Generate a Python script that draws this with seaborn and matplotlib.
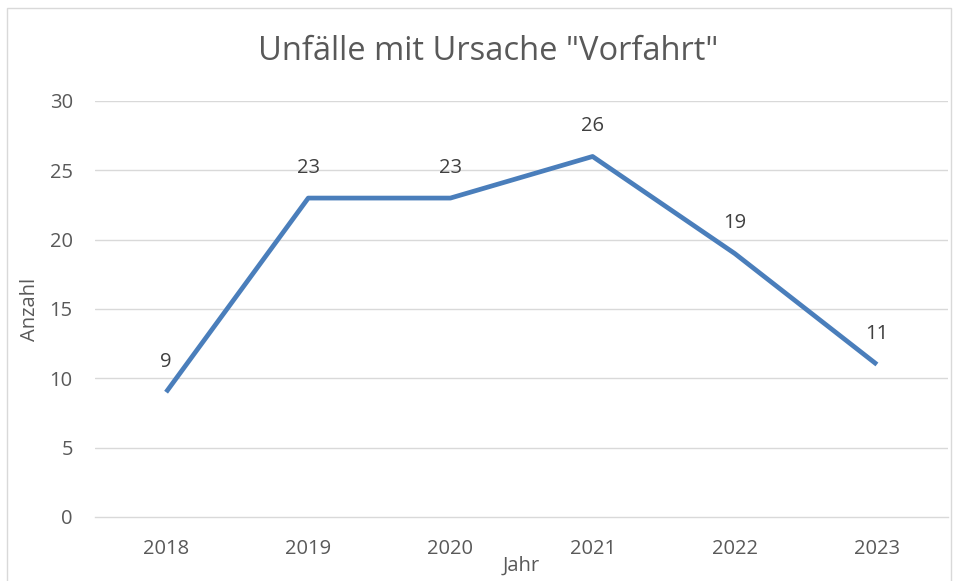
import matplotlib
matplotlib.use("Agg")
import matplotlib.pyplot as plt
import seaborn as sns
import pandas as pd
from matplotlib.patches import Rectangle

years = ["2018", "2019", "2020", "2021", "2022", "2023"]
counts = [9, 23, 23, 26, 19, 11]
yticks = [0, 5, 10, 15, 20, 25, 30]

sns.set_style("white")
plt.rcParams['font.family'] = ['Open Sans', 'DejaVu Sans']

df = pd.DataFrame({"Jahr": years, "Anzahl": counts})

fig = plt.figure(figsize=(9.56, 5.81), dpi=100)
fig.patch.set_facecolor("white")
ax = fig.add_axes([95/956, 1-517/581, (948-95)/956, (517-101)/581])

grid_c = "#d9d9d9"
text_c = "#595959"
fs = 14.5
for t in yticks[1:]:
    ax.axhline(t, color=grid_c, lw=1.0, zorder=0)

sns.lineplot(data=df, x="Jahr", y="Anzahl", ax=ax, color="#4a7ebb", lw=3.4,
             sort=False, solid_capstyle="butt")

for i, v in enumerate(counts):
    ax.annotate(str(v), (i, v), xytext=(0, 22), textcoords="offset points",
                ha="center", va="center", fontsize=fs, color="#404040")

ax.set_xlim(-0.5, 5.5)
ax.set_ylim(0, 30)
ax.set_yticks(yticks)
ax.set_xticks(range(len(years)))
ax.set_xticklabels(years)
for s in ["top", "right", "left"]:
    ax.spines[s].set_visible(False)
ax.spines["bottom"].set_color(grid_c)
ax.spines["bottom"].set_linewidth(1.0)
ax.tick_params(axis="both", length=0, labelsize=fs, labelcolor=text_c)
ax.tick_params(axis="y", pad=16)
ax.tick_params(axis="x", pad=16)

ax.set_xlabel("Jahr", fontsize=fs, color=text_c)
ax.set_ylabel("Anzahl", fontsize=fs, color=text_c)
ax.xaxis.label.set_va("center")
ax.yaxis.label.set_va("center")
ax.xaxis.set_label_coords(0.5, -(566-517)/416)
ax.yaxis.set_label_coords(-(95-30)/853, 0.5)

fig.text(488/956, 1-52/581, 'Unfälle mit Ursache "Vorfahrt"', ha="center", va="center",
         fontsize=23.5, color=text_c)

fig.patches.append(Rectangle((7/956, -0.05), (951-7)/956, 1.05 - 8/581,
                             transform=fig.transFigure, fill=False,
                             edgecolor="#d9d9d9", lw=1.0))

fig.savefig("out.png", dpi=100)
